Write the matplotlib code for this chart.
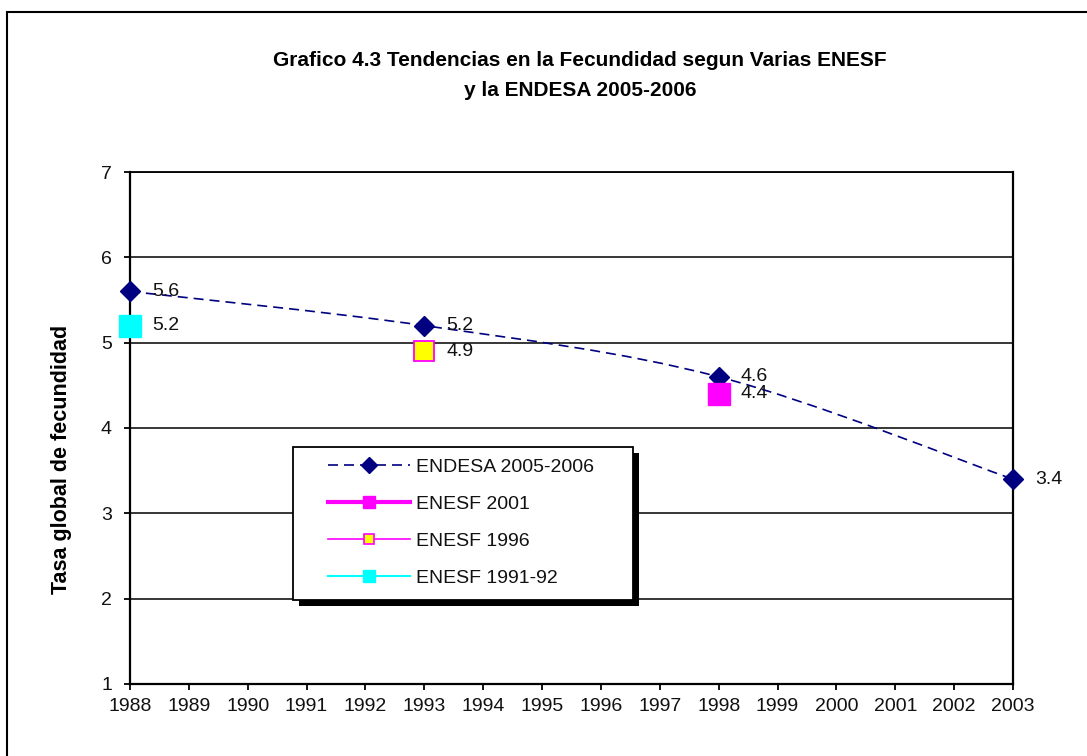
import matplotlib
matplotlib.use("Agg")
import matplotlib.pyplot as plt
from matplotlib.lines import Line2D
from matplotlib.patches import Rectangle, PathPatch
from matplotlib.path import Path
import numpy as np

# data
years = [1988, 1989, 1990, 1991, 1992, 1993, 1994, 1995,
         1996, 1997, 1998, 1999, 2000, 2001, 2002, 2003]
endesa_years = [1988, 1993, 1998, 2003]
endesa_tgf = [5.6, 5.2, 4.6, 3.4]
enesf2001_years = [1998]
enesf2001_tgf = [4.4]
enesf1996_years = [1993]
enesf1996_tgf = [4.9]
enesf1991_years = [1988]
enesf1991_tgf = [5.2]

navy = "#000080"
magenta = "#FF00FF"
cyan = "#00FFFF"
yellow = "#FFFF00"
dash = (0, (6, 3.6))

plt.rcParams["font.family"] = ["Liberation Sans", "DejaVu Sans"]

fig = plt.figure(figsize=(10.87, 7.56), dpi=100)
W, H = 1087, 756

# outer chart frame (cut off at right / bottom like the screenshot)
fig.add_artist(Rectangle((7 / W, -0.1), 1.2, 1.1 - 12 / H, transform=fig.transFigure,
                         fill=False, edgecolor="black", linewidth=1.5))

ax = fig.add_axes([130 / W, 1 - 684 / H, (1013 - 130) / W, (684 - 172) / H])


def smooth_path(xs, ys):
    # excel-like smoothed line: bezier segments through the points
    pts = np.column_stack([xs, ys]).astype(float)
    n = len(pts)
    verts = [pts[0]]
    codes = [Path.MOVETO]
    for i in range(n - 1):
        p0 = pts[i - 1] if i > 0 else pts[i]
        p1 = pts[i]
        p2 = pts[i + 1]
        p3 = pts[i + 2] if i + 2 < n else pts[i + 1]
        verts += [p1 + (p2 - p0) / 6, p2 - (p3 - p1) / 6, p2]
        codes += [Path.CURVE4] * 3
    return Path(verts, codes)


ax.add_patch(PathPatch(smooth_path(endesa_years, endesa_tgf), facecolor="none",
                       edgecolor=navy, linewidth=1.2, linestyle=dash, zorder=3))
ax.plot(endesa_years, endesa_tgf, linestyle="none", marker="D", ms=10.5,
        color=navy, zorder=4, clip_on=False)
ax.plot(enesf1991_years, enesf1991_tgf, linestyle="none", marker="s", ms=15.5,
        color=cyan, zorder=4, clip_on=False)
ax.plot(enesf1996_years, enesf1996_tgf, linestyle="none", marker="s", ms=14.5,
        markerfacecolor=yellow, markeredgecolor=magenta, markeredgewidth=1.3,
        zorder=4, clip_on=False)
ax.plot(enesf2001_years, enesf2001_tgf, linestyle="none", marker="s", ms=16,
        color=magenta, zorder=4, clip_on=False)

# value labels
for xs, ys in [(endesa_years, endesa_tgf), (enesf1991_years, enesf1991_tgf),
               (enesf1996_years, enesf1996_tgf), (enesf2001_years, enesf2001_tgf)]:
    for x, y in zip(xs, ys):
        ax.annotate(f"{y:.1f}", (x, y), xytext=(16, 0), textcoords="offset points",
                    ha="left", va="center", fontsize=14, color="#111111", zorder=5,
                    annotation_clip=False)

ax.set_xlim(1988, 2003)
ax.set_ylim(1, 7)
ax.set_xticks(years)
ax.set_xticklabels([str(y) for y in years])
ax.set_yticks(range(1, 8))
ax.tick_params(axis="both", direction="out", length=4, width=1.3, labelsize=14,
               colors="black", labelcolor="#111111")
ax.tick_params(axis="x", pad=6)
ax.tick_params(axis="y", pad=9)
for y in range(2, 8):
    ax.axhline(y, color="black", linewidth=1.1, zorder=1)
for side in ["left", "bottom", "right"]:
    ax.spines[side].set_linewidth(1.6)
ax.spines["top"].set_linewidth(1.3)

fig.text(580 / W, 1 - 60 / H, "Grafico 4.3 Tendencias en la Fecundidad segun Varias ENESF",
         ha="center", va="center", fontsize=15, fontweight="bold")
fig.text(580 / W, 1 - 91 / H, "y la ENDESA 2005-2006",
         ha="center", va="center", fontsize=15, fontweight="bold")
fig.text(62 / W, 1 - 459 / H, "Tasa global de fecundidad", rotation=90,
         ha="center", va="center", fontsize=15.5, fontweight="bold")

# legend box with solid shadow
lx0, ly0, lx1, ly1 = 293, 447, 633, 600
ax.add_artist(Rectangle(((lx0 + 6) / W, 1 - (ly1 + 6) / H), (lx1 - lx0) / W, (ly1 - ly0) / H,
                        transform=fig.transFigure, facecolor="black", edgecolor="none",
                        zorder=5.5, clip_on=False))
ax.add_artist(Rectangle((lx0 / W, 1 - ly1 / H), (lx1 - lx0) / W, (ly1 - ly0) / H,
                        transform=fig.transFigure, facecolor="white", edgecolor="black",
                        linewidth=1.3, zorder=5.6, clip_on=False))

handles = [
    Line2D([], [], color=navy, linewidth=1.2, linestyle=dash, marker="D", ms=8),
    Line2D([], [], color=magenta, linewidth=3, marker="s", ms=8),
    Line2D([], [], color=magenta, linewidth=1.2, marker="s", ms=7,
           markerfacecolor=yellow, markeredgecolor=magenta, markeredgewidth=1.2),
    Line2D([], [], color=cyan, linewidth=1.5, marker="s", ms=8),
]
labels = ["ENDESA 2005-2006", "ENESF 2001", "ENESF 1996", "ENESF 1991-92"]
leg = ax.legend(handles, labels, loc="upper left",
                bbox_to_anchor=(328 / W, 1 - 458 / H), bbox_transform=fig.transFigure,
                borderaxespad=0, borderpad=0, fontsize=14, handlelength=4.2,
                handletextpad=0.3, labelspacing=1.0, frameon=False)
leg.set_zorder(6)
for t in leg.get_texts():
    t.set_color("#111111")

fig.savefig("out.png", dpi=100)
